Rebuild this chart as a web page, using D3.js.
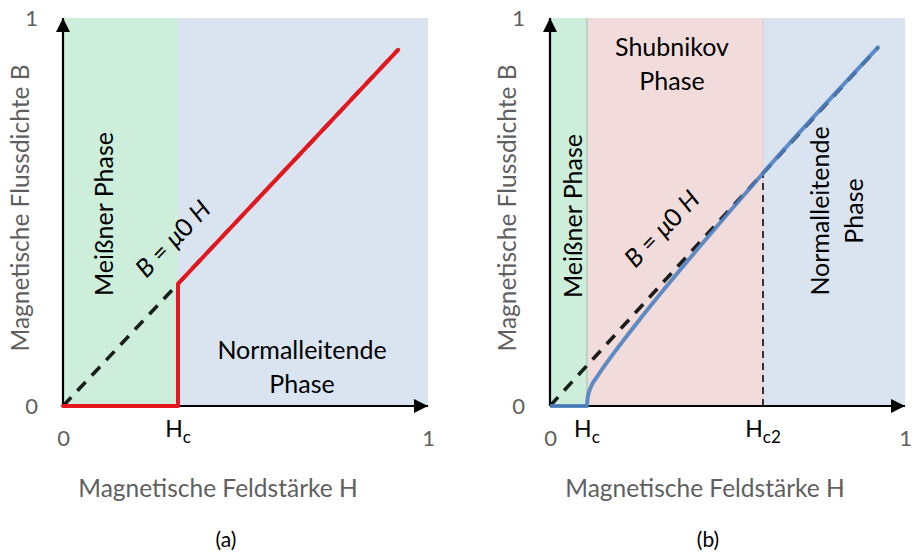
<!DOCTYPE html>
<html>
<head>
<meta charset="utf-8">
<script src="https://cdn.jsdelivr.net/npm/d3@7"></script>
<style>
  body { margin: 0; background: #fff; }
  svg { display: block; }
  text { font-family: Lato, "Open Sans", sans-serif; }
</style>
</head>
<body>
<svg id="chart" width="912" height="554"></svg>
<script>
// Panel captions and axis texts
const panelCaptions = ["(a)", "(b)"];
const tickValues = [0, 1];
const xTitle = "Magnetische Feldstärke H";
const yTitle = "Magnetische Flussdichte B";

// Critical fields (normalised to the axis range)
const hcTypeI = 0.315;
const hcTypeII = 0.104;
const hc2TypeII = 0.6;

// Reference line B = μ0 H
const refEndI = 0.918;
const refEndII = 0.924;

// Type I superconductor: B(H)
const typeI_H = [0, 0.315, 0.315, 0.918];
const typeI_B = [0, 0, 0.315, 0.918];

// Type II superconductor: flat part below Hc and Shubnikov branch
const typeIIflat_H = [0, 0.104];
const typeIIflat_B = [0, 0];
const typeII_H = [0.104, 0.106, 0.11, 0.118, 0.13, 0.15, 0.19, 0.25, 0.3, 0.42, 0.6, 0.924];
const typeII_B = [0, 0.02, 0.036, 0.055, 0.072, 0.099, 0.149, 0.22, 0.277, 0.409, 0.6, 0.924];

const C = {
  green: "#cdeedb",
  blue: "#dae3f0",
  pink: "#f2dcdb",
  red: "#e3171d",
  curveBlue: "#4f82c2",
  gray: "#5f5f5f"
};

const svg = d3.select("#chart");

const y = d3.scaleLinear().domain([0, 1]).range([406, 18]);
const xA = d3.scaleLinear().domain([0, 1]).range([63, 428]);
const xB = d3.scaleLinear().domain([0, 1]).range([550, 905]);

const zip = (hs, bs) => hs.map((h, i) => [h, bs[i]]);

// arrow head marker
const defs = svg.append("defs");
defs.append("marker")
  .attr("id", "arrow")
  .attr("viewBox", "0 0 10 10")
  .attr("refX", 10).attr("refY", 5)
  .attr("markerUnits", "userSpaceOnUse")
  .attr("markerWidth", 15).attr("markerHeight", 14)
  .attr("orient", "auto")
  .append("path").attr("d", "M0,0 L10,5 L0,10 Z").attr("fill", "#000");

function bands(g, x, list) {
  g.selectAll("rect.band").data(list).join("rect")
    .attr("class", "band")
    .attr("x", d => x(d[0]))
    .attr("y", y(1))
    .attr("width", d => x(d[1]) - x(d[0]))
    .attr("height", y(0) - y(1))
    .attr("fill", d => d[2]);
}

function axes(g, x) {
  const ax = g.append("g").attr("transform", `translate(0,${y(0)})`)
    .call(d3.axisBottom(x).tickValues(tickValues).tickSize(0).tickPadding(24).tickFormat(d3.format("d")));
  ax.select(".domain").remove();
  ax.selectAll("text").attr("font-size", 22).attr("fill", C.gray).attr("font-family", "Lato");
  const ay = g.append("g").attr("transform", `translate(${x(0)},0)`)
    .call(d3.axisLeft(y).tickValues(tickValues).tickSize(0).tickPadding(25).tickFormat(d3.format("d")));
  ay.select(".domain").remove();
  ay.selectAll("text").attr("font-size", 22).attr("fill", C.gray).attr("font-family", "Lato");
}

function axisLines(g, x) {
  g.append("line")
    .attr("x1", x(0)).attr("y1", y(0)).attr("x2", x(1)).attr("y2", y(0))
    .attr("stroke", "#000").attr("stroke-width", 2.2).attr("marker-end", "url(#arrow)");
  g.append("line")
    .attr("x1", x(0)).attr("y1", y(0)).attr("x2", x(0)).attr("y2", y(1))
    .attr("stroke", "#000").attr("stroke-width", 2.2).attr("marker-end", "url(#arrow)");
}

function refLine(g, x, end) {
  g.append("path")
    .attr("d", d3.line().x(d => x(d[0])).y(d => y(d[1]))([[0, 0], [end, end]]))
    .attr("fill", "none").attr("stroke", "#000").attr("stroke-opacity", 0.88)
    .attr("stroke-width", 3.6).attr("stroke-dasharray", "12 9");
}

function titles(g, x, cx, cap) {
  g.append("text").attr("x", cx).attr("y", 497)
    .attr("text-anchor", "middle").attr("font-size", 24.5).attr("fill", C.gray).text(xTitle);
  g.append("text")
    .attr("transform", `translate(${x(0) - 44},208) rotate(-90)`)
    .attr("text-anchor", "middle").attr("dominant-baseline", "central")
    .attr("font-size", 24.5).attr("fill", C.gray).text(yTitle);
  g.append("text").attr("x", cap[1]).attr("y", 547)
    .attr("text-anchor", "middle").attr("font-size", 21).attr("fill", "#000").text(cap[0]);
}

function hLabel(g, x, val, sub) {
  const t = g.append("text").attr("x", x(val)).attr("y", 437)
    .attr("text-anchor", "middle").attr("font-size", 23).attr("fill", "#000");
  t.append("tspan").text("H");
  t.append("tspan").attr("font-size", 17).attr("dy", 6).text(sub);
}

function formula(g, cx, cy) {
  const t = g.append("text")
    .attr("transform", `translate(${cx},${cy}) rotate(-46)`)
    .attr("text-anchor", "middle").attr("dominant-baseline", "central")
    .attr("font-family", "'DejaVu Serif', 'Liberation Serif', serif")
    .attr("font-size", 25).attr("fill", "#000");
  t.append("tspan").attr("font-style", "italic").text("B");
  t.append("tspan").text(" = ");
  t.append("tspan").attr("font-style", "italic").text("μ");
  t.append("tspan").text("0 ");
  t.append("tspan").attr("font-style", "italic").text("H");
}

function label(g, lines, cx, cy, rot, size) {
  const lh = size * 1.33;
  const t = g.append("text")
    .attr("transform", `translate(${cx},${cy}) rotate(${rot})`)
    .attr("text-anchor", "middle").attr("font-size", size).attr("fill", "#000");
  lines.forEach((s, i) => {
    t.append("tspan").attr("x", 0)
      .attr("y", (i - (lines.length - 1) / 2) * lh)
      .attr("dominant-baseline", "central").text(s);
  });
}

// ---------- Panel (a): type I ----------
const gA = svg.append("g");
bands(gA, xA, [[0, hcTypeI, C.green], [hcTypeI, 1, C.blue]]);
axes(gA, xA);
titles(gA, xA, 218, [panelCaptions[0], 226]);
label(gA, ["Meißner Phase"], 103, 214, -90, 25);
label(gA, ["Normalleitende", "Phase"], 302, 366, 0, 25);
formula(gA, 172, 238);
refLine(gA, xA, refEndI);
axisLines(gA, xA);
gA.append("path")
  .attr("d", d3.line().x(d => xA(d[0])).y(d => y(d[1]))(zip(typeI_H, typeI_B)))
  .attr("fill", "none").attr("stroke", C.red).attr("stroke-width", 4)
  .attr("stroke-linejoin", "round").attr("stroke-linecap", "round");
hLabel(gA, xA, hcTypeI, "c");

// ---------- Panel (b): type II ----------
const gB = svg.append("g");
bands(gB, xB, [[0, hcTypeII, C.green], [hcTypeII, hc2TypeII, C.pink], [hc2TypeII, 1, C.blue]]);
gB.append("line").attr("x1", xB(hcTypeII)).attr("x2", xB(hcTypeII)).attr("y1", y(0)).attr("y2", y(1))
  .attr("stroke", "#bcd2c2").attr("stroke-width", 2);
gB.append("line").attr("x1", xB(hc2TypeII)).attr("x2", xB(hc2TypeII)).attr("y1", y(0)).attr("y2", y(1))
  .attr("stroke", "#ddd3dc").attr("stroke-width", 1.2);
axes(gB, xB);
titles(gB, xB, 705, [panelCaptions[1], 708]);
label(gB, ["Meißner Phase"], 572, 216, -90, 25);
label(gB, ["Shubnikov", "Phase"], 672, 63, 0, 25);
label(gB, ["Normalleitende", "Phase"], 836, 211, -90, 25);
formula(gB, 661, 228);
refLine(gB, xB, refEndII);
axisLines(gB, xB);
gB.append("line").attr("x1", xB(hc2TypeII)).attr("x2", xB(hc2TypeII))
  .attr("y1", y(0)).attr("y2", y(hc2TypeII))
  .attr("stroke", "#222").attr("stroke-width", 1.8).attr("stroke-dasharray", "7 5");
gB.append("path")
  .attr("d", d3.line().x(d => xB(d[0])).y(d => y(d[1]))(zip(typeIIflat_H, typeIIflat_B)))
  .attr("fill", "none").attr("stroke", C.curveBlue).attr("stroke-opacity", 0.9).attr("stroke-width", 4);
gB.append("path")
  .attr("d", d3.line().curve(d3.curveMonotoneX).x(d => xB(d[0])).y(d => y(d[1]))(zip(typeII_H, typeII_B)))
  .attr("fill", "none").attr("stroke", C.curveBlue).attr("stroke-opacity", 0.9).attr("stroke-width", 4)
  .attr("stroke-linecap", "round");
hLabel(gB, xB, hcTypeII, "c");
hLabel(gB, xB, hc2TypeII, "c2");
</script>
</body>
</html>
